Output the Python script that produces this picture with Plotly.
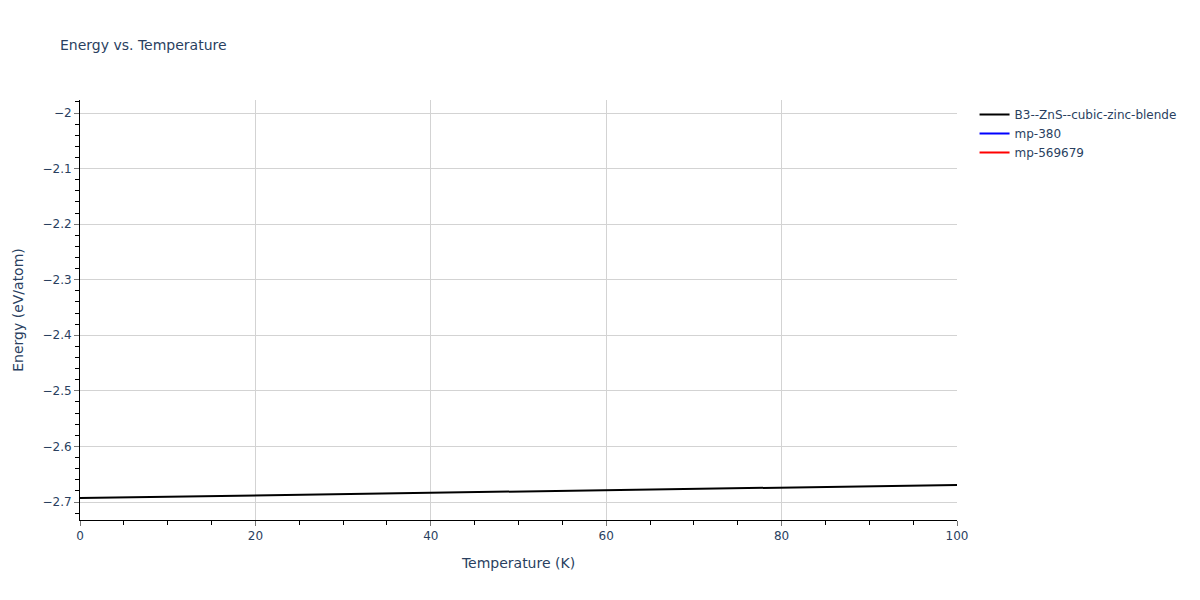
import plotly.graph_objects as go

# temperature (K) and energy (eV/atom)
temp_b3 = [0, 20, 40, 60, 80, 100]
energy_b3 = [-2.6928, -2.6881, -2.6835, -2.6788, -2.6741, -2.6694]

# these two only show up in the legend (no visible points)
temp_mp380 = [None]
energy_mp380 = [None]
temp_mp569679 = [None]
energy_mp569679 = [None]

fig = go.Figure()
fig.add_trace(go.Scatter(x=temp_b3, y=energy_b3, mode='lines',
                         name='B3--ZnS--cubic-zinc-blende',
                         line=dict(color='black', width=2), showlegend=True))
fig.add_trace(go.Scatter(x=temp_mp380, y=energy_mp380, mode='lines',
                         name='mp-380', line=dict(color='blue', width=2),
                         showlegend=True))
fig.add_trace(go.Scatter(x=temp_mp569679, y=energy_mp569679, mode='lines',
                         name='mp-569679', line=dict(color='red', width=2),
                         showlegend=True))

fig.update_layout(
    title=dict(text='Energy vs. Temperature', x=0.05, font=dict(size=14)),
    font=dict(family='DejaVu Sans', size=12),
    plot_bgcolor='white',
    paper_bgcolor='white',
    width=1200, height=600,
    showlegend=True,
    margin=dict(l=80, r=243, t=100, b=80),
    xaxis=dict(
        title=dict(text='Temperature (K)', font=dict(size=14)),
        range=[0, 100],
        dtick=20,
        showline=True, linecolor='black', linewidth=1,
        showgrid=True, gridcolor='lightgray',
        zeroline=False,
        ticks='outside', ticklen=5, tickcolor='#777',
        minor=dict(ticks='outside', ticklen=4, tickcolor='black', dtick=5),
    ),
    yaxis=dict(
        title=dict(text='Energy (eV/atom)', font=dict(size=14)),
        range=[-2.7324, -1.9766],
        dtick=0.1,
        showline=True, linecolor='black', linewidth=1,
        showgrid=True, gridcolor='lightgray',
        zeroline=False,
        ticks='outside', ticklen=5, tickcolor='#777',
        minor=dict(ticks='outside', ticklen=4, tickcolor='black', dtick=0.02),
    ),
    legend=dict(x=1.02, y=1, yanchor='top'),
)

# page margin off so the figure sits at the window's corner
fig.write_html('out.html', config={'displayModeBar': False},
               post_script="document.body.style.margin='0px';")
